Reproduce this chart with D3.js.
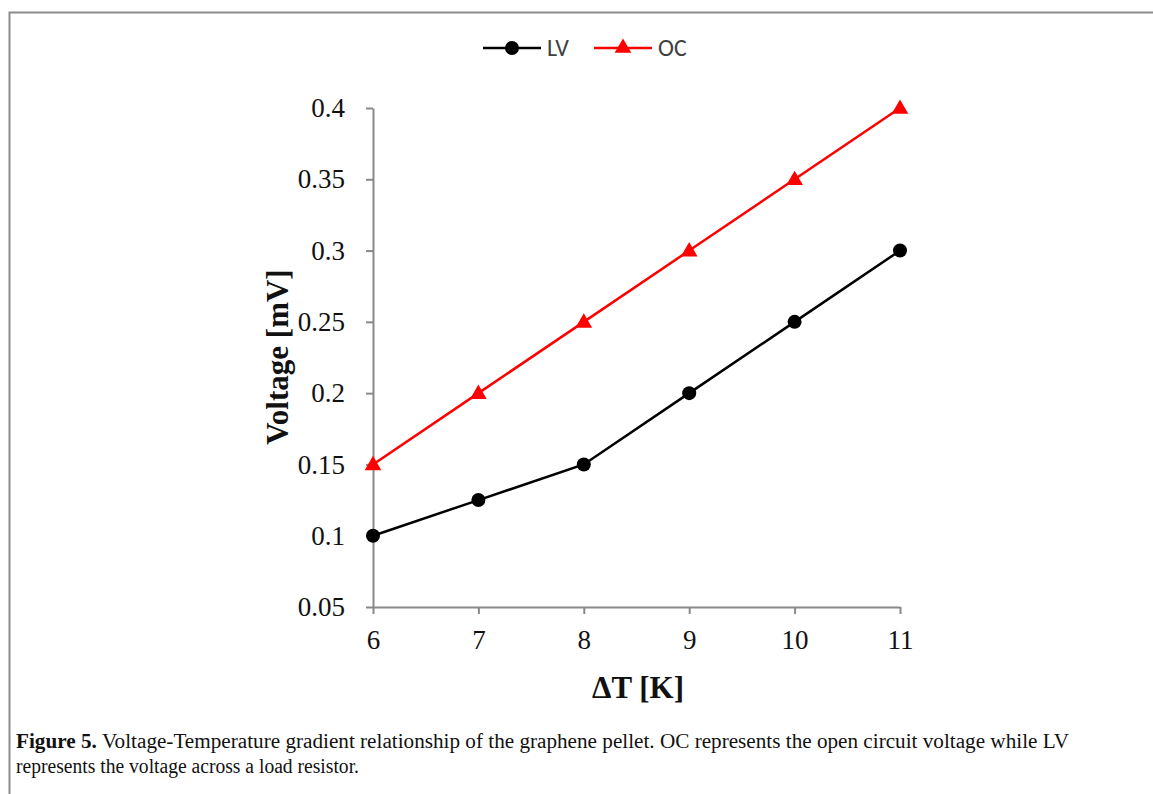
<!DOCTYPE html>
<html>
<head>
<meta charset="utf-8">
<script src="https://cdn.jsdelivr.net/npm/d3@7"></script>
<style>
  body { margin: 0; background: #fff; }
  svg { display: block; }
</style>
</head>
<body>
<svg id="chart" width="1153" height="794"></svg>
<script>
// data
var deltaT = [6, 7, 8, 9, 10, 11],
  lvValues = [0.1, 0.125, 0.15, 0.2, 0.25, 0.3],
  ocValues = [0.15, 0.2, 0.25, 0.3, 0.35, 0.4],
  xTicks = [6, 7, 8, 9, 10, 11],
  yTicks = [0.05, 0.1, 0.15, 0.2, 0.25, 0.3, 0.35, 0.4];

var svg = d3.select("#chart");

// figure frame (open to the right / bottom like the crop)
svg.append("path")
  .attr("d", "M1160,12.5H9.5V800")
  .attr("fill", "none")
  .attr("stroke", "#8c8c8c")
  .attr("stroke-width", 2);

var x = d3.scaleLinear().domain([6, 11]).range([373, 900]),
  y = d3.scaleLinear().domain([0.05, 0.4]).range([607, 108]);

var axisColor = "#898989",
  serif = "'Liberation Serif', 'Times New Roman', serif";

// y axis
var gy = svg.append("g")
  .attr("transform", "translate(373,0)")
  .call(d3.axisLeft(y).tickValues(yTicks).tickSize(7).tickSizeOuter(0).tickPadding(21)
    .tickFormat(function(d) { return String(+d.toFixed(2)); }));
gy.select(".domain").attr("stroke", axisColor).attr("stroke-width", 2);
gy.selectAll(".tick line").attr("stroke", axisColor).attr("stroke-width", 2);
gy.selectAll(".tick text")
  .attr("fill", "#111")
  .style("font-family", serif)
  .style("font-size", "27px");

// x axis
var gx = svg.append("g")
  .attr("transform", "translate(0,607)")
  .call(d3.axisBottom(x).tickValues(xTicks).tickSize(7).tickSizeOuter(0).tickPadding(16)
    .tickFormat(d3.format("d")));
gx.select(".domain").attr("stroke", axisColor).attr("stroke-width", 2);
gx.selectAll(".tick line").attr("stroke", axisColor).attr("stroke-width", 2);
gx.selectAll(".tick text")
  .attr("fill", "#111")
  .style("font-family", serif)
  .style("font-size", "27px");

// axis titles
svg.append("text")
  .attr("transform", "translate(288,357) rotate(-90)")
  .attr("text-anchor", "middle")
  .style("font-family", serif)
  .style("font-weight", "bold")
  .style("font-size", "31px")
  .attr("fill", "#111")
  .text("Voltage [mV]");

svg.append("text")
  .attr("x", 638)
  .attr("y", 698)
  .attr("text-anchor", "middle")
  .style("font-family", serif)
  .style("font-weight", "bold")
  .style("font-size", "31px")
  .attr("fill", "#111")
  .text("ΔT [K]");

// series
var line = d3.line()
  .x(function(d) { return x(d.t); })
  .y(function(d) { return y(d.v); });

var lvData = deltaT.map(function(t, i) { return {t: t, v: lvValues[i]}; }),
  ocData = deltaT.map(function(t, i) { return {t: t, v: ocValues[i]}; });

svg.append("path")
  .datum(ocData)
  .attr("d", line)
  .attr("fill", "none")
  .attr("stroke", "#ff0000")
  .attr("stroke-width", 2.5);

svg.append("path")
  .datum(lvData)
  .attr("d", line)
  .attr("fill", "none")
  .attr("stroke", "#000")
  .attr("stroke-width", 2.5);

var tri = d3.symbol().type(d3.symbolTriangle).size(120);

svg.selectAll(".oc")
  .data(ocData)
  .enter().append("path")
  .attr("class", "oc")
  .attr("transform", function(d) { return "translate(" + x(d.t) + "," + (y(d.v) + 1) + ")"; })
  .attr("d", tri)
  .attr("fill", "#ff0000");

svg.selectAll(".lv")
  .data(lvData)
  .enter().append("circle")
  .attr("class", "lv")
  .attr("cx", function(d) { return x(d.t); })
  .attr("cy", function(d) { return y(d.v); })
  .attr("r", 7)
  .attr("fill", "#000");

// legend
var legend = svg.append("g").attr("transform", "translate(0,48)");
var keys = [
  {name: "LV", color: "#000", x0: 483, shape: "circle"},
  {name: "OC", color: "#ff0000", x0: 594, shape: "tri"}
];
keys.forEach(function(k) {
  legend.append("line")
    .attr("x1", k.x0).attr("x2", k.x0 + 58)
    .attr("y1", 0).attr("y2", 0)
    .attr("stroke", k.color).attr("stroke-width", 2.5);
  if (k.shape === "circle") {
    legend.append("circle").attr("cx", k.x0 + 29).attr("cy", 0).attr("r", 7).attr("fill", k.color);
  } else {
    legend.append("path").attr("transform", "translate(" + (k.x0 + 29) + ",0)")
      .attr("d", tri).attr("fill", k.color);
  }
  legend.append("text")
    .attr("x", k.x0 + 64)
    .attr("y", 8)
    .style("font-family", "Carlito, 'Open Sans', 'Liberation Sans', sans-serif")
    .style("font-size", "24px")
    .attr("fill", "#404040")
    .text(k.name);
});

// caption
var cap = svg.append("g")
  .style("font-family", serif)
  .style("font-size", "20px")
  .attr("fill", "#111");
var line1 = cap.append("text").attr("x", 16).attr("y", 748)
  .attr("textLength", 1053).attr("lengthAdjust", "spacingAndGlyphs");
line1.append("tspan").style("font-weight", "bold").text("Figure 5. ");
line1.append("tspan").text("Voltage-Temperature gradient relationship of the graphene pellet. OC represents the open circuit voltage while LV");
cap.append("text").attr("x", 16).attr("y", 773)
  .attr("textLength", 343).attr("lengthAdjust", "spacingAndGlyphs")
  .text("represents the voltage across a load resistor.");
</script>
</body>
</html>
